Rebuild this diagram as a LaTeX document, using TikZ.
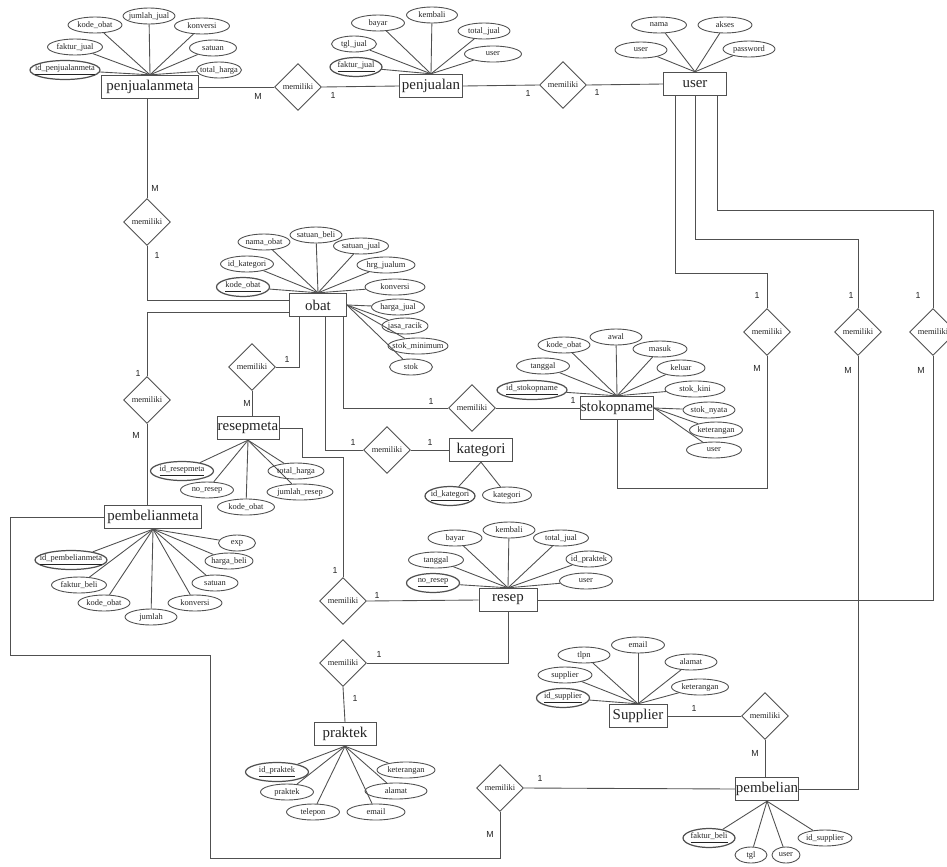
\documentclass[tikz,border=0pt]{standalone}
\usepackage{fontspec}
\setmainfont{Liberation Serif}
\setsansfont{Liberation Sans}
\usetikzlibrary{shapes.geometric,calc}
\definecolor{erline}{RGB}{80,80,80}
\definecolor{ertext}{RGB}{35,35,35}

\begin{document}
\begin{tikzpicture}[x=0.02cm,y=-0.02cm,
  ent/.style={draw=erline,line width=0.5pt,rectangle,inner sep=0pt,minimum height=0.47cm,font=\fontsize{8.5}{10}\selectfont,text=ertext},
  rel/.style={draw=erline,line width=0.5pt,diamond,aspect=1,inner sep=0pt,minimum width=0.94cm,minimum height=0.94cm,font=\fontsize{4.8}{6}\selectfont,text=ertext},
  attr/.style={draw=erline,line width=0.5pt,ellipse,inner sep=0pt,minimum height=0.32cm,font=\fontsize{4.8}{6}\selectfont,text=ertext},
  key/.style={attr,line width=0.7pt,minimum height=0.38cm},
  card/.style={font=\sffamily\fontsize{5}{6}\selectfont,text=ertext,inner sep=0pt},
  conn/.style={draw=erline,line width=0.5pt}]
\useasboundingbox (0,0) rectangle (947,866);

\node[ent,minimum width=1.94cm] (pjm) at (150,87) {penjualanmeta};
\node[ent,minimum width=1.26cm] (pj) at (431,86) {penjualan};
\node[ent,minimum width=1.26cm] (usr) at (695,84) {user};
\node[ent,minimum width=1.14cm] (obt) at (318,305) {obat};
\node[ent,minimum width=1.46cm] (stk) at (617,408) {stokopname};
\node[ent,minimum width=1.26cm] (kat) at (481,450) {kategori};
\node[ent,minimum width=1.24cm] (rsm) at (248,428) {resepmeta};
\node[ent,minimum width=1.94cm] (pbm) at (153,517) {pembelianmeta};
\node[ent,minimum width=1.16cm] (rsp) at (508,600) {resep};
\node[ent,minimum width=1.16cm] (sup) at (638,716) {Supplier};
\node[ent,minimum width=1.26cm] (pbl) at (767,789) {pembelian};
\node[ent,minimum width=1.24cm] (prk) at (345,734) {praktek};

\node[rel] (r1) at (298,87) {memiliki};
\node[rel] (r2) at (563,85) {memiliki};
\node[rel] (r3) at (147,222) {memiliki};
\node[rel] (r4) at (147,400) {memiliki};
\node[rel] (r5) at (252,367) {memiliki};
\node[rel] (r6) at (472,408) {memiliki};
\node[rel] (r7) at (387,450) {memiliki};
\node[rel] (r8) at (343,601) {memiliki};
\node[rel] (r9) at (343,663) {memiliki};
\node[rel] (r10) at (765,716) {memiliki};
\node[rel] (r11) at (500,788) {memiliki};
\node[rel] (r12) at (767,332) {memiliki};
\node[rel] (r13) at (858,332) {memiliki};
\node[rel] (r14) at (933,332) {memiliki};

\foreach \n/\s/\x/\y/\w/\t in {pjm1/key/65/70/70/{\underline{id\_penjualanmeta}},pjm2/attr/75/47/55/faktur\_jual,
  pjm3/attr/95/25/54/kode\_obat,pjm4/attr/149/16/52/jumlah\_jual,pjm5/attr/202/26/55/konversi,
  pjm6/attr/213/48/47/satuan,pjm7/attr/219/70/45/total\_harga}{
  \node[\s,minimum width=\w*0.02cm] (\n) at (\x,\y) {\makebox[0pt]{\t}};
  \draw[conn] (pjm.north) -- (\n);
}
\foreach \n/\s/\x/\y/\w/\t in {pj1/key/356/67/52/{\underline{faktur\_jual}},pj2/attr/354/44/45/tgl\_jual,
  pj3/attr/378/23/53/bayar,pj4/attr/432/15/51/kembali,pj5/attr/484/31/52/total\_jual,pj6/attr/493/54/57/user}{
  \node[\s,minimum width=\w*0.02cm] (\n) at (\x,\y) {\makebox[0pt]{\t}};
  \draw[conn] (pj.north) -- (\n);
}
\foreach \n/\s/\x/\y/\w/\t in {us1/attr/641/50/52/user,us2/attr/659/25/55/nama,us3/attr/725/25/54/akses,
  us4/attr/749/49/52/password}{
  \node[\s,minimum width=\w*0.02cm] (\n) at (\x,\y) {\makebox[0pt]{\t}};
  \draw[conn] (usr.north) -- (\n);
}
\foreach \n/\s/\x/\y/\w/\t in {ob1/key/243/287/53/{\underline{kode\_obat}},ob2/attr/247/264/53/id\_kategori,
  ob3/attr/264/242/52/nama\_obat,ob4/attr/316/235/52/satuan\_beli,ob5/attr/361/246/55/satuan\_jual,
  ob6/attr/386/265/58/hrg\_jualum,ob7/attr/395/287/60/konversi}{
  \node[\s,minimum width=\w*0.02cm] (\n) at (\x,\y) {\makebox[0pt]{\t}};
  \draw[conn] (obt.north) -- (\n);
}
\foreach \n/\s/\x/\y/\w/\t in {ob8/attr/398/307/53/harga\_jual,ob9/attr/405/326/46/jasa\_racik,
  ob10/attr/418/346/60/stok\_minimum,ob11/attr/411/367/43/stok}{
  \node[\s,minimum width=\w*0.02cm] (\n) at (\x,\y) {\makebox[0pt]{\t}};
  \draw[conn] (obt.east) -- (\n);
}
\foreach \n/\s/\x/\y/\w/\t in {st1/key/532/390/70/{\underline{id\_stokopname}},st2/attr/543/366/53/tanggal,
  st3/attr/564/345/52/kode\_obat,st4/attr/616/337/52/awal,st5/attr/660/349/54/masuk,
  st6/attr/681/368/48/keluar,st7/attr/695/389/60/stok\_kini}{
  \node[\s,minimum width=\w*0.02cm] (\n) at (\x,\y) {\makebox[0pt]{\t}};
  \draw[conn] (stk.north) -- (\n);
}
\foreach \n/\s/\x/\y/\w/\t in {st8/attr/709/410/52/stok\_nyata,st9/attr/716/430/53/keterangan,
  st10/attr/714/450/55/user}{
  \node[\s,minimum width=\w*0.02cm] (\n) at (\x,\y) {\makebox[0pt]{\t}};
  \draw[conn] (stk.east) -- (\n);
}
\foreach \n/\s/\x/\y/\w/\t in {ka1/key/450/496/50/{\underline{id\_kategori}},ka2/attr/507/495/49/kategori}{
  \node[\s,minimum width=\w*0.02cm] (\n) at (\x,\y) {\makebox[0pt]{\t}};
  \draw[conn] (kat.south) -- (\n);
}
\foreach \n/\s/\x/\y/\w/\t in {rm1/key/182/471/63/{\underline{id\_resepmeta}},rm2/attr/207/490/53/no\_resep,
  rm3/attr/246/507/57/kode\_obat,rm4/attr/300/492/66/jumlah\_resep,rm5/attr/296/471/56/total\_harga}{
  \node[\s,minimum width=\w*0.02cm] (\n) at (\x,\y) {\makebox[0pt]{\t}};
  \draw[conn] (rsm.south) -- (\n);
}
\foreach \n/\s/\x/\y/\w/\t in {pb1/key/71/560/72/{\underline{id\_pembelianmeta}},pb2/attr/79/585/55/faktur\_beli,
  pb3/attr/104/603/52/kode\_obat,pb4/attr/151/617/52/jumlah,pb5/attr/195/603/54/konversi,
  pb6/attr/215/583/46/satuan,pb7/attr/229/561/48/harga\_beli,pb8/attr/237/543/37/exp}{
  \node[\s,minimum width=\w*0.02cm] (\n) at (\x,\y) {\makebox[0pt]{\t}};
  \draw[conn] (pbm.south) -- (\n);
}
\foreach \n/\s/\x/\y/\w/\t in {rs1/key/433/583/53/{\underline{no\_resep}},rs2/attr/436/560/55/tanggal,
  rs3/attr/455/538/54/bayar,rs4/attr/509/530/52/kembali,rs5/attr/561/538/55/total\_jual,
  rs6/attr/589/559/46/id\_praktek,rs7/attr/586/581/53/user}{
  \node[\s,minimum width=\w*0.02cm] (\n) at (\x,\y) {\makebox[0pt]{\t}};
  \draw[conn] (rsp.north) -- (\n);
}
\foreach \n/\s/\x/\y/\w/\t in {pr1/key/277/772/63/{\underline{id\_praktek}},pr2/attr/287/792/53/praktek,
  pr3/attr/313/812/53/telepon,pr4/attr/376/812/58/email,pr5/attr/396/791/62/alamat,
  pr6/attr/406/770/58/keterangan}{
  \node[\s,minimum width=\w*0.02cm] (\n) at (\x,\y) {\makebox[0pt]{\t}};
  \draw[conn] (prk.south) -- (\n);
}
\foreach \n/\s/\x/\y/\w/\t in {su1/key/563/698/53/{\underline{id\_supplier}},su2/attr/565/675/54/supplier,
  su3/attr/584/655/52/tlpn,su4/attr/638/645/53/email,su5/attr/691/662/52/alamat,
  su6/attr/700/687/57/keterangan}{
  \node[\s,minimum width=\w*0.02cm] (\n) at (\x,\y) {\makebox[0pt]{\t}};
  \draw[conn] (sup.north) -- (\n);
}
\foreach \n/\s/\x/\y/\w/\t in {pl1/key/709/838/52/{\underline{faktur\_beli}},pl2/attr/751/855/32/tgl,
  pl3/attr/786/855/28/user,pl4/attr/825/838/54/id\_supplier}{
  \node[\s,minimum width=\w*0.02cm] (\n) at (\x,\y) {\makebox[0pt]{\t}};
  \draw[conn] (pbl.south) -- (\n);
}

\draw[conn] (pjm.east) -- (r1.west);
\draw[conn] (r1.east) -- (pj.west);
\draw[conn] (pj.east) -- (r2.west);
\draw[conn] (r2.east) -- (usr.west);
\draw[conn] (r3.north |- pjm.south) -- (r3.north);
\draw[conn] (r3.south) |- ([yshift=1mm]obt.west);
\draw[conn] ([yshift=-1.4mm]obt.west) -| (r4.north);
\draw[conn] (r4.south) -- (r4.south |- pbm.north);
\draw[conn] ([xshift=-3.8mm]obt.south) |- (r5.east);
\draw[conn] (r5.south) -- (r5.south |- rsm.north);
\draw[conn] ([xshift=5mm]obt.south) |- (r6.west);
\draw[conn] (r6.east) -- (stk.west);
\draw[conn] ([xshift=1.4mm]obt.south) |- (r7.west);
\draw[conn] (r7.east) -- (kat.west);
\draw[conn] (rsm.east) -- ++(23,0) -- ++(0,29) -| (r8.north);
\draw[conn] (r8.east) -- (rsp.west);
\draw[conn] (rsp.south) |- (r9.east);
\draw[conn] (r9.south) -- (prk.north);
\draw[conn] (rsp.east) -| (r14.south);
\draw[conn] ([xshift=-4mm]usr.south) |- ([yshift=7mm]r12.north) -- (r12.north);
\draw[conn] (usr.south) |- ([yshift=13.7mm]r13.north) -- (r13.north);
\draw[conn] ([xshift=4.4mm]usr.south) |- ([yshift=19.5mm]r14.north) -- (r14.north);
\draw[conn] (r12.south) |- ([yshift=-13.7mm]stk.south) -- (stk.south);
\draw[conn] (r13.south) |- (pbl.east);
\draw[conn] (sup.east) -- (r10.west);
\draw[conn] (r10.south) -- (r10.south |- pbl.north);
\draw[conn] (pbl.west) -- (r11.east);
\coordinate (bend1) at (10,655);
\coordinate (bend2) at (210,858);
\draw[conn] (pbm.west) -| (bend1) -| (bend2) -| (r11.south);

\foreach \lab/\x/\y [count=\i] in {M/258/96,1/333/95,1/528/93,1/597/92,M/155/188,1/157/255,
  1/138/373,M/136/435,1/287/359,M/247/403,1/431/401,1/573/400,1/353/442,1/430/442,
  1/335/570,1/377/595,1/379/654,1/355/698,1/757/295,1/851/295,1/918/295,M/757/368,
  M/848/370,M/921/370,1/694/708,M/755/753,1/540/778,M/490/834}{
  \node[card] (k\i) at (\x,\y) {\lab};
}
\end{tikzpicture}
\end{document}
